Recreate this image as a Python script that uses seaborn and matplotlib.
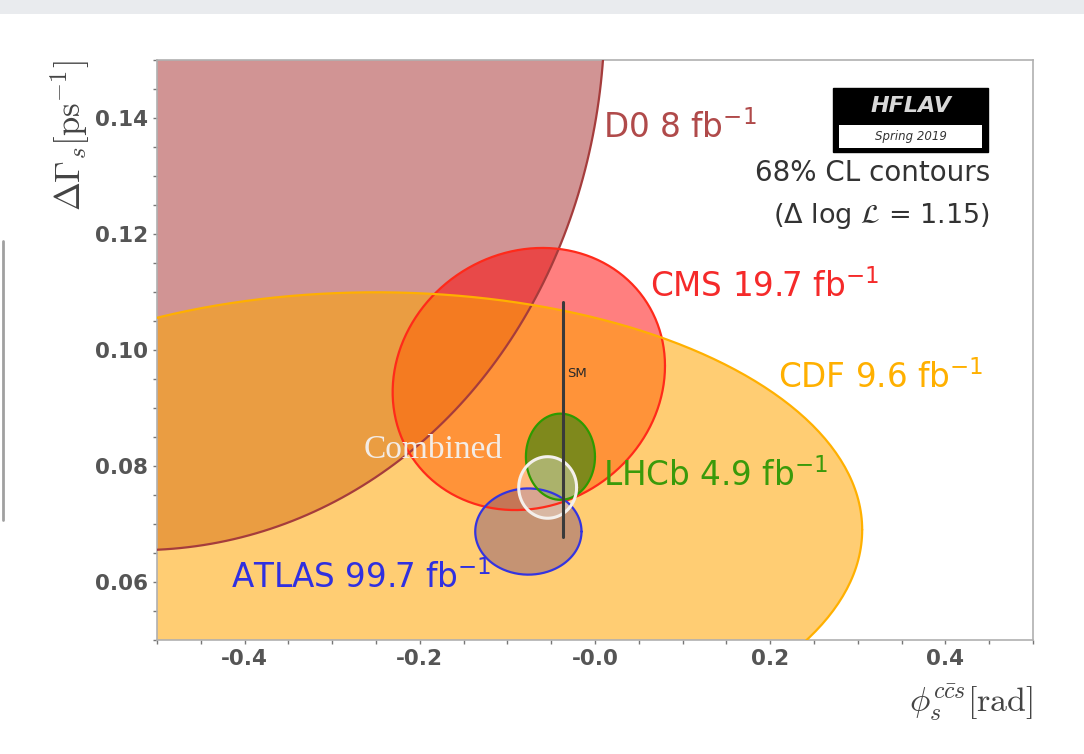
import numpy as np
import pandas as pd
import matplotlib
matplotlib.use("Agg")
import matplotlib.pyplot as plt
import seaborn as sns
from matplotlib.patches import Rectangle

# 68% CL contours in the (phi_s, dGamma_s) plane
experiments = ['D0', 'CMS', 'ATLAS', 'CDF', 'LHCb', 'Combined']
phi_s = [-0.55, -0.0755, -0.076, -0.25, -0.0394, -0.054]
phi_err = [0.370, 0.1025, 0.040, 0.366, 0.026, 0.0218]
dgamma = [0.163, 0.095, 0.0687, 0.069, 0.0816, 0.0763]
dgamma_err = [0.0643, 0.0149, 0.0049, 0.027, 0.0049, 0.0035]
corr = [-0.05, 0.1, 0.0, 0.0, 0.0, 0.0]
dloglik = 1.15

labels = {
    'D0': r'D0 8 fb$^{-1}$',
    'CMS': r'CMS 19.7 fb$^{-1}$',
    'CDF': r'CDF 9.6 fb$^{-1}$',
    'LHCb': r'LHCb 4.9 fb$^{-1}$',
    'ATLAS': r'ATLAS 99.7 fb$^{-1}$',
}
label_pos = {
    'D0': (0.009, 0.1383),
    'CMS': (0.063, 0.1109),
    'CDF': (0.209, 0.0952),
    'LHCb': (0.009, 0.0783),
    'ATLAS': (-0.415, 0.0607),
}

# standard model prediction
sm_phi = -0.0369
sm_dgamma = [0.0678, 0.1083]

fill_col = {'D0': 'brown', 'CMS': 'red', 'ATLAS': 'blue', 'CDF': 'orange',
            'LHCb': 'green', 'Combined': 'white'}
fill_alpha = {'D0': 0.5, 'CMS': 0.5, 'ATLAS': 0.5, 'CDF': 0.55,
              'LHCb': 0.5, 'Combined': 0.35}
edge_col = {'D0': '#a53c3c', 'CMS': '#ff2a1a', 'ATLAS': '#3434e0', 'CDF': '#ffb000',
            'LHCb': '#2e9a00', 'Combined': '#f4f0ec'}
text_col = {'D0': '#b04a4a', 'CMS': '#f52a2a', 'CDF': '#ffb000',
            'LHCb': '#3a9a0a', 'ATLAS': '#3030e0'}

# build contour table
s = np.sqrt(2 * dloglik)
t = np.linspace(0, 2 * np.pi, 400)
rows = []
for name, cx, sx, cy, sy, r in zip(experiments, phi_s, phi_err, dgamma, dgamma_err, corr):
    x = cx + s * sx * np.cos(t)
    y = cy + s * sy * (r * np.cos(t) + np.sqrt(1 - r ** 2) * np.sin(t))
    rows.append(pd.DataFrame({'phi': x, 'dg': y, 'exp': name}))
contours = pd.concat(rows, ignore_index=True)

sns.set_style('ticks')
fig = plt.figure(figsize=(10.84, 7.54), dpi=100)
ax = fig.add_axes([0.1448, 0.1512, 0.8081, 0.7692])

for name in experiments:
    d = contours[contours['exp'] == name]
    ax.fill(d['phi'], d['dg'], color=fill_col[name], alpha=fill_alpha[name], lw=0, zorder=1)
for name in experiments:
    d = contours[contours['exp'] == name]
    sns.lineplot(data=d, x='phi', y='dg', sort=False, estimator=None, ax=ax,
                 color=edge_col[name], lw=1.6 if name != 'Combined' else 2.2, zorder=3)

ax.plot([sm_phi, sm_phi], sm_dgamma, color='#3a3a3a', lw=2.2, zorder=4)
ax.text(sm_phi + 0.005, 0.096, 'SM', fontsize=9.5, color='#2a2a2a', va='center', zorder=5)

for name, lab in labels.items():
    ax.text(*label_pos[name], lab, color=text_col[name], fontsize=23.5, va='center', ha='left', zorder=5)
ax.text(-0.185, 0.0828, 'Combined', family='Liberation Serif', fontsize=24, color='#f3ece6',
        ha='center', va='center', zorder=5)

ax.text(0.451, 0.1305, '68% CL contours', fontsize=20, color='#333333', ha='right', va='center')
ax.text(0.451, 0.1231, r'($\Delta$ log $\mathcal{L}$ = 1.15)', fontsize=19.5, color='#333333',
        ha='right', va='center')

# HFLAV logo
ax.add_patch(Rectangle((0.772, 0.841), 0.177, 0.111, transform=ax.transAxes,
                       facecolor='black', edgecolor='black', zorder=6))
ax.add_patch(Rectangle((0.779, 0.848), 0.163, 0.040, transform=ax.transAxes,
                       facecolor='white', edgecolor='none', zorder=7))
ax.text(0.8605, 0.921, 'HFLAV', transform=ax.transAxes, color='#d8d8d8', fontsize=16,
        style='italic', weight='bold', ha='center', va='center', zorder=8)
ax.text(0.8605, 0.868, 'Spring 2019', transform=ax.transAxes, color='#333333', fontsize=8.5,
        style='italic', ha='center', va='center', zorder=8)

ax.set_xlim(-0.5, 0.5)
ax.set_ylim(0.05, 0.15)
ax.set_xticks([-0.4, -0.2, 0.0, 0.2, 0.4])
ax.set_xticklabels(['-0.4', '-0.2', '-0.0', '0.2', '0.4'])
ax.set_xticks(np.arange(-0.5, 0.51, 0.05), minor=True)
ax.set_yticks([0.06, 0.08, 0.10, 0.12, 0.14])
ax.set_yticklabels(['0.06', '0.08', '0.10', '0.12', '0.14'])
ax.set_yticks(np.arange(0.05, 0.1501, 0.005), minor=True)
ax.tick_params(which='both', direction='out', color='#777777', length=3, width=1)
ax.tick_params(labelsize=15.5, labelcolor='#555555')
for lab in ax.get_xticklabels() + ax.get_yticklabels():
    lab.set_fontweight('bold')
for sp in ax.spines.values():
    sp.set_color('#b0b0b0')
    sp.set_linewidth(1.2)

ax.set_xlabel(r'$\phi_s^{c\bar{c}s}[\mathrm{rad}]$', fontsize=24.5, loc='right',
              color='#444444', math_fontfamily='cm', labelpad=10)
ax.set_ylabel(r'$\Delta\Gamma_s[\mathrm{ps}^{-1}]$', fontsize=25, loc='top',
              color='#444444', math_fontfamily='cm', labelpad=2)

# screenshot frame bits
fig.add_artist(Rectangle((0, 0.9814), 1, 0.0186, transform=fig.transFigure,
                         facecolor='#e9ebee', edgecolor='none'))
fig.add_artist(plt.Line2D([0.003, 0.003], [0.31, 0.68], transform=fig.transFigure,
                          color='#a0a0a0', lw=2))

fig.savefig('out.png', dpi=100)
